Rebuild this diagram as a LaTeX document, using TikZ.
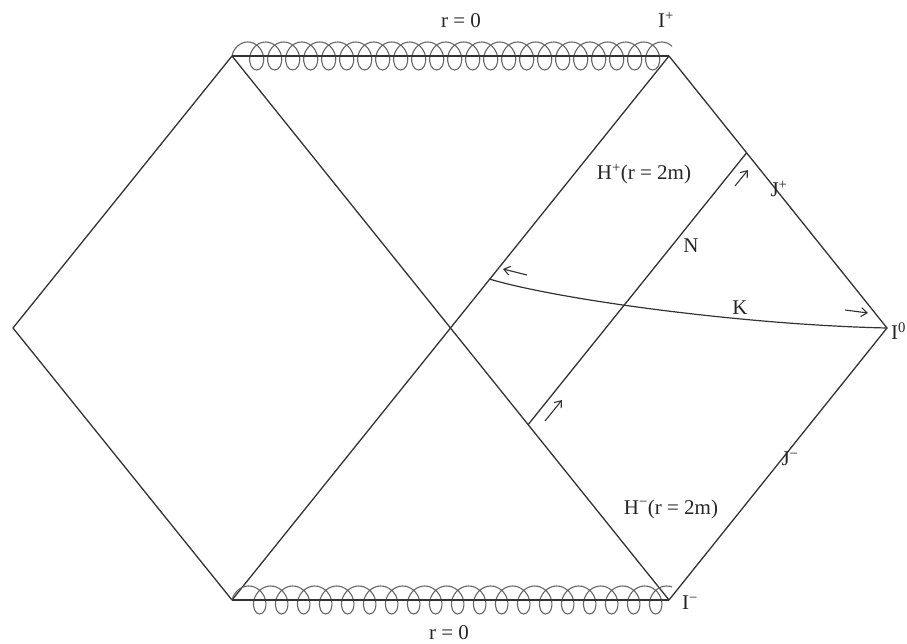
\documentclass[tikz,border=0pt]{standalone}
\usepackage{fontspec}
\setmainfont{Liberation Serif}
\usetikzlibrary{arrows.meta, calc, decorations.pathmorphing}
\definecolor{inkgray}{HTML}{333333}

\begin{document}
\begin{tikzpicture}[
    x=1pt, y=-1pt,
    font=\fontsize{21}{24}\selectfont,
    edge/.style={draw=inkgray, line width=1.3pt},
    sing/.style={draw=inkgray!75, line width=1.1pt, decorate,
                 decoration={coil, aspect=0.8, amplitude=14pt, segment length=#1}},
    flow/.style={-{Straight Barb[length=6pt, width=9pt]}, draw=inkgray, line width=1.1pt},
    lbl/.style={inner sep=0pt, text=black!85}
  ]
    \useasboundingbox (0,0) rectangle (907,644);

    % Corners of the two diamonds
    \coordinate (lft) at (13,328);
    \coordinate (tl)  at (232,56);
    \coordinate (bl)  at (232,600);
    \coordinate (ctr) at (450,328);
    \coordinate (tr)  at (669,56);
    \coordinate (br)  at (669,600);
    \coordinate (rgt) at (887,328);

    % Outline and horizons
    \draw[edge] (tl) -- (lft) -- (bl);
    \draw[edge] (tr) -- (rgt) -- (br);
    \draw[edge] (tl) -- (br);
    \draw[edge] (bl) -- (tr);

    % Singularities r = 0 -- straight line with a coil over it
    % (coil runs past the corner, then is clipped there)
    \coordinate (trx) at ($(tr)+(20,0)$);
    \coordinate (brx) at ($(br)+(24,0)$);
    \begin{scope}
      \clip ($(tl)+(-15,-25)$) rectangle ($(br)+(3,25)$);
      \draw[sing=18pt] (tl) -- (trx);
      \draw[sing=22pt] (bl) -- (brx);
    \end{scope}
    \draw[edge] (tl) -- (tr);
    \draw[edge] (bl) -- (br);

    % Null ray N, parallel to the future horizon
    \coordinate (nlow)  at ($(ctr)!0.356!(br)$);
    \coordinate (nhigh) at ($(tr)!0.356!(rgt)$);
    \draw[edge] (nlow) -- (nhigh);

    % Curve K from the horizon out to spatial infinity
    \coordinate (kstart) at ($(ctr)!0.18!(tr)$);
    \draw[edge, line width=1.2pt] (kstart) .. controls +(70,21) and +(-140,-3) .. (rgt);

    % Little direction marks
    \coordinate (kl1) at (527,275);  \coordinate (kl2) at (503,269);
    \coordinate (kr1) at (845,310);  \coordinate (kr2) at (868,313);
    \coordinate (nl1) at (545,421);  \coordinate (nl2) at (562,400);
    \coordinate (nh1) at (735,186);  \coordinate (nh2) at (748,170);
    \draw[flow] (kl1) -- (kl2);
    \draw[flow] (kr1) -- (kr2);
    \draw[flow] (nl1) -- (nl2);
    \draw[flow] (nh1) -- (nh2);

    % Labels
    \node[lbl] (rtop)  at (461,21)  {r = 0};
    \node[lbl] (rbot)  at (449,633) {r = 0};
    \node[lbl] (iplus) at (666,20)  {I\textsuperscript{+}};
    \node[lbl, anchor=west] (iminus) at (682,603) {I\textsuperscript{−}};
    \node[lbl, anchor=west] (izero)  at (891,331) {I\textsuperscript{0}};
    \node[lbl] (hplus)  at (644,174) {H\textsuperscript{+}(r = 2m)};
    \node[lbl] (hminus) at (671,509) {H\textsuperscript{−}(r = 2m)};
    \node[lbl] (jplus)  at (779,189) {J\textsuperscript{+}};
    \node[lbl] (jminus) at (790,459) {J\textsuperscript{−}};
    \node[lbl] (nlab)   at (691,246) {N};
    \node[lbl] (klab)   at (740,308) {K};
  \end{tikzpicture}
\end{document}
